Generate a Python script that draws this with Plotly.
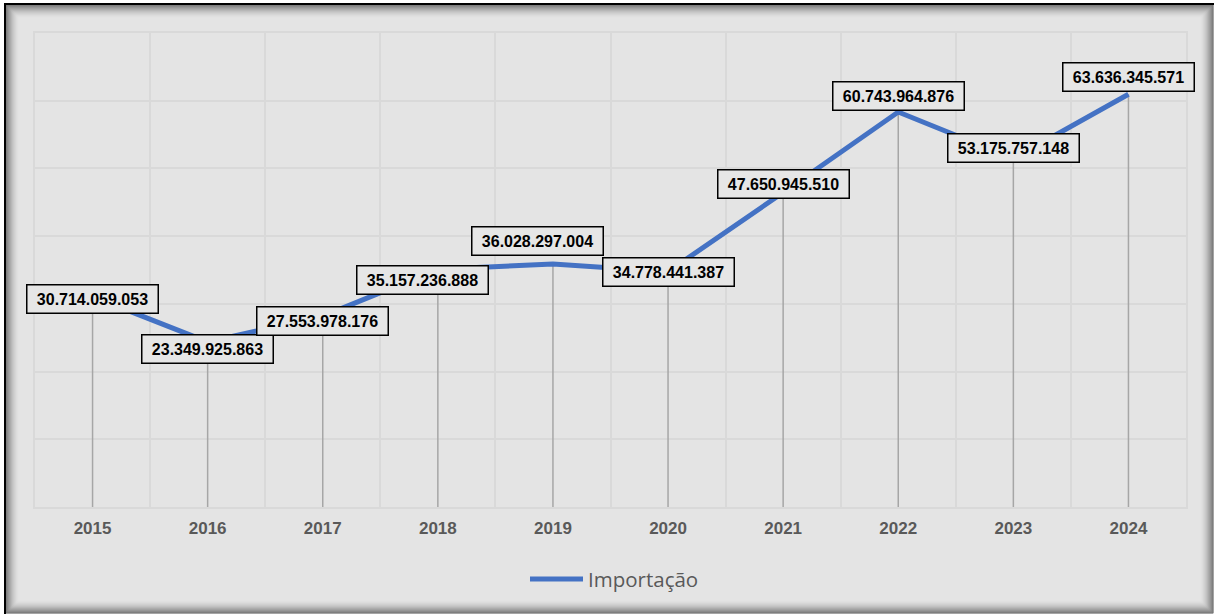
import plotly.graph_objects as go

# ---- data ----
years = [2015, 2016, 2017, 2018, 2019, 2020, 2021, 2022, 2023, 2024]
importacao = [30714059053, 23349925863, 27553978176, 35157236888, 36028297004,
              34778441387, 47650945510, 60743964876, 53175757148, 63636345571]
series_name = "Importação"

# label offsets (style only)
label_xshift = [0, 0, 0, -15, -15, 0, 0, 0, 0, 0]
label_yshift = [-2, -7, -5, -11, 23, 0, 9, 16, 11, 17]

W, H = 1214, 614
ML, MR, MT, MB = 35, 28, 33, 107
ymin, ymax = -3.5e9, 73.6e9

def fmt(v):
    return f"{v:,}".replace(",", ".")

fig = go.Figure()

# drop lines from each point down to the axis
dx, dy = [], []
for x, v in zip(years, importacao):
    dx += [x, x, None]
    dy += [v, ymin, None]
fig.add_trace(go.Scatter(x=dx, y=dy, mode="lines",
                         line=dict(color="#a6a6a6", width=1.5),
                         hoverinfo="skip", showlegend=False))

fig.add_trace(go.Scatter(x=years, y=importacao, mode="lines", name=series_name,
                         line=dict(color="#4472c4", width=5),
                         showlegend=False))

# data labels
for x, v, xs, ys in zip(years, importacao, label_xshift, label_yshift):
    fig.add_annotation(x=x, y=v, text=fmt(v), showarrow=False,
                       xshift=xs, yshift=ys,
                       font=dict(family="Liberation Sans, Arial", size=16,
                                 color="#000000", weight="bold"),
                       bgcolor="#e6e6e6", bordercolor="#000000",
                       borderwidth=1.5, borderpad=5, width=120)

# frame with inner shadow (paper coordinates from pixels)
pw, ph = W - ML - MR, H - MT - MB
def px(x):
    return (x - ML) / pw
def py(y):
    return (H - MB - y) / ph

shapes = [dict(type="rect", xref="paper", yref="paper", layer="below",
               x0=px(5), x1=px(W + 3), y0=py(4), y1=py(H + 3),
               fillcolor="#e4e4e4", line=dict(color="#000000", width=2))]
n = 14
for i in range(n):
    a = 0.55 * (1 - i / n) ** 2
    shapes.append(dict(type="rect", xref="paper", yref="paper", layer="below",
                       x0=px(6 + i), x1=px(W - 1 - i), y0=py(5 + i), y1=py(H - 1 - i),
                       fillcolor="rgba(0,0,0,0)",
                       line=dict(color=f"rgba(0,0,0,{a:.3f})", width=1)))

# legend (manual)
shapes.append(dict(type="line", xref="paper", yref="paper",
                   x0=px(530), x1=px(583), y0=py(579), y1=py(579),
                   line=dict(color="#4472c4", width=5)))
fig.add_annotation(xref="paper", yref="paper", x=px(586), y=py(579),
                   xanchor="left", yanchor="middle", showarrow=False,
                   text=series_name,
                   font=dict(family="Open Sans", size=20.5, color="#595959"))

fig.update_layout(
    width=W, height=H,
    margin=dict(l=ML, r=MR, t=MT, b=MB, pad=0),
    paper_bgcolor="#ffffff",
    plot_bgcolor="rgba(0,0,0,0)",
    shapes=shapes,
    showlegend=False,
)

fig.update_xaxes(range=[years[0] - 0.5, years[-1] + 0.5],
                 tickvals=years, ticktext=[str(y) for y in years],
                 showgrid=False, zeroline=False, ticks="",
                 ticklabelstandoff=5,
                 tickfont=dict(family="Liberation Sans, Arial", size=17,
                               color="#595959", weight="bold"),
                 minor=dict(tickvals=[y + 0.5 for y in years[:-1]],
                            showgrid=True, gridcolor="#d9d9d9", gridwidth=1.5, ticks=""),
                 showline=True, mirror=True, linecolor="#d9d9d9", linewidth=1.5)

fig.update_yaxes(range=[ymin, ymax], tick0=ymin, dtick=(ymax - ymin) / 7,
                 showticklabels=False, ticks="", zeroline=False,
                 showgrid=True, gridcolor="#d9d9d9", gridwidth=1.5,
                 showline=True, mirror=True, linecolor="#d9d9d9", linewidth=1.5)

fig.write_html("out.html", config={"displayModeBar": False},
               post_script="document.body.style.margin='0';document.body.style.overflow='hidden';")
